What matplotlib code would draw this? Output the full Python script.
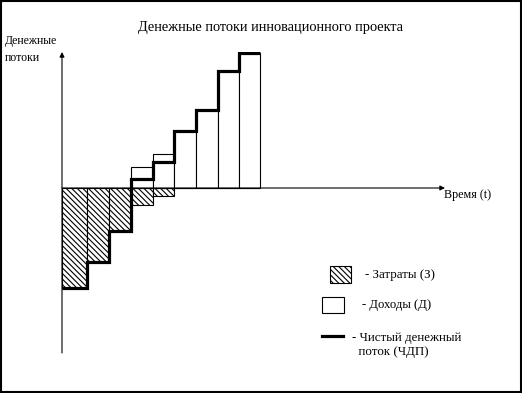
import matplotlib.pyplot as plt
import matplotlib.patches as mpatches
import matplotlib.lines as mlines
import numpy as np

plt.rcParams['font.family'] = ['Liberation Serif', 'DejaVu Serif']
plt.rcParams['hatch.linewidth'] = 0.8

# period boundaries (time) and flows per period
t_edges = [0, 1.15, 2.15, 3.14, 4.13, 5.1, 6.1, 7.1, 8.05, 9.0]
costs = [-100, -74, -43, -16.6, -8.3, 0, 0, 0, 0]
income = [0, 0, 0, 21.4, 34.4, 57, 78.4, 117.4, 135]
net_flow = [-100, -74, -43, 9, 25.7, 57, 78.4, 117.4, 135]

title = 'Денежные потоки инновационного проекта'
y_label = 'Денежные\nпотоки'
x_label = 'Время (t)'
legend_labels = ['- Затраты (З)', '- Доходы (Д)', '- Чистый денежный\n  поток (ЧДП)']

W, H = 522, 393
fig = plt.figure(figsize=(W / 100, H / 100), dpi=100)

def fx(px):
    return px / W

def fy(py):
    return 1 - py / H

# axes spans from the y-axis (x=62) to the arrow tip (x=445), arrow top (y=52) to bottom (y=353)
ax = fig.add_axes([fx(62), fy(353), fx(445) - fx(62), fy(52) - fy(353)])
ax.set_xlim(0, 383 / 22)
ax.set_ylim(-165, 136)
ax.axis('off')

edges = np.array(t_edges)
lefts = edges[:-1]
widths = np.diff(edges)

ax.bar(lefts, costs, width=widths, align='edge', color='white', edgecolor='black',
       linewidth=0.8, hatch='\\\\\\\\\\\\')
inc_mask = np.array(income) > 0
ax.bar(lefts[inc_mask], np.array(income)[inc_mask], width=widths[inc_mask], align='edge',
       color='white', edgecolor='black', linewidth=0.8)
ax.stairs(net_flow, edges, baseline=None, color='black', linewidth=2.3)

# axes with arrows
ax.annotate('', xy=(1, 165 / 301), xytext=(0, 165 / 301), xycoords='axes fraction',
            arrowprops=dict(arrowstyle='-|>', color='black', lw=0.8,
                            mutation_scale=7, shrinkA=0, shrinkB=0))
ax.annotate('', xy=(0, 1), xytext=(0, 0), xycoords='axes fraction',
            arrowprops=dict(arrowstyle='-|>', color='black', lw=0.8,
                            mutation_scale=7, shrinkA=0, shrinkB=0))

# texts
fig.text(fx(270), fy(28), title, ha='center', va='center', fontsize=10.4)
fig.text(fx(5), fy(49.5), y_label, ha='left', va='center', fontsize=8.5, linespacing=1.5)
fig.text(fx(444), fy(195), x_label, ha='left', va='center', fontsize=8.7)

# legend
fig.add_artist(mpatches.Rectangle((fx(330), fy(283)), fx(21), fy(0) - fy(17),
                                  transform=fig.transFigure, facecolor='white',
                                  edgecolor='black', linewidth=0.8, hatch='\\\\\\\\\\\\'))
fig.text(fx(365), fy(275), legend_labels[0], ha='left', va='center', fontsize=9.3)
fig.add_artist(mpatches.Rectangle((fx(322), fy(313)), fx(22), fy(0) - fy(16),
                                  transform=fig.transFigure, facecolor='white',
                                  edgecolor='black', linewidth=0.8))
fig.text(fx(362), fy(305), legend_labels[1], ha='left', va='center', fontsize=9.1)
fig.add_artist(mlines.Line2D([fx(322), fx(343)], [fy(336), fy(336)],
                             transform=fig.transFigure, color='black', linewidth=2.3))
fig.text(fx(352), fy(345), legend_labels[2], ha='left', va='center', fontsize=9.3,
         linespacing=1.3)

# outer frame
fig.add_artist(mpatches.Rectangle((fx(1), fy(391.5)), fx(519.5), fy(0) - fy(390.5),
                                  transform=fig.transFigure, fill=False,
                                  edgecolor='black', linewidth=1.5))

fig.savefig('out.png', dpi=100)
